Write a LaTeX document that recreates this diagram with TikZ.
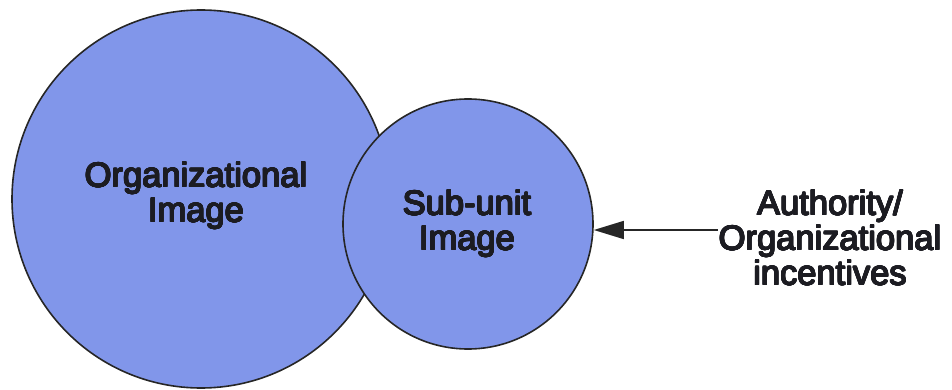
\documentclass[tikz,border=0pt]{standalone}
\usepackage{fontspec}
\setmainfont{Liberation Sans}
\usepackage[copies]{contour}
\contournumber{16}
\contourlength{0.6pt}
\usetikzlibrary{arrows.meta}
\definecolor{imgfill}{RGB}{129,150,234}
\definecolor{ink}{RGB}{28,28,34}
\newcommand{\heavy}[1]{\contour{ink}{#1}}
\begin{document}
\begin{tikzpicture}[x=1pt,y=-1pt,
  imagecircle/.style={circle,draw=black!85,line width=1.6pt,fill=imgfill,inner sep=0pt},
  label/.style={align=center,font=\fontsize{34.5}{35}\selectfont,text=ink}]
\useasboundingbox (0,0) rectangle (952,390);
\node[imagecircle,minimum size=378pt] (org) at (201,199) {};
\node[imagecircle,minimum size=250pt] (sub) at (468,224) {};
\node[label] at (196,196) {\heavy{Organizational}\\\heavy{Image}};
\node[label] at (467,224) {\heavy{Sub-unit}\\\heavy{Image}};
\node[label] (auth) at (830,238) {\heavy{Authority/}\\\heavy{Organizational}\\\heavy{incentives}};
\coordinate (start) at (718,230);
\draw[line width=1.6pt,black!85,-{Triangle[length=30pt,width=18pt]}] (start) -- (sub.east |- start);
\end{tikzpicture}
\end{document}
